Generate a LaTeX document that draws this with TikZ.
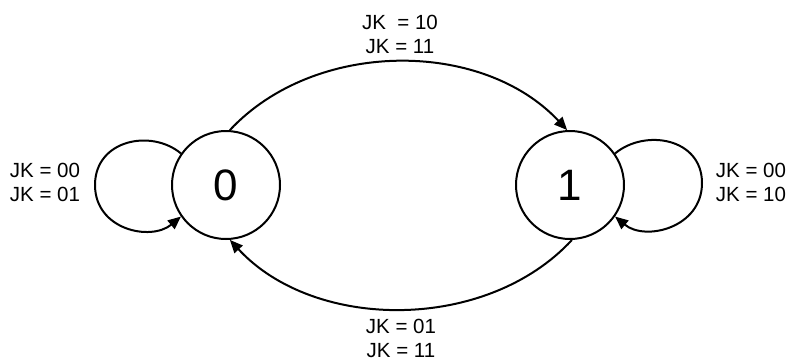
\documentclass[tikz,border=0pt]{standalone}
\usepackage{fontspec}
\setmainfont{Liberation Sans}
\usetikzlibrary{arrows.meta}
\begin{document}
\begin{tikzpicture}[
    x=1pt, y=1pt,
    every node/.style={font=\fontsize{20.5}{24}\selectfont},
    statenode/.style={draw, circle, line width=2pt, minimum size=108pt, inner sep=0pt,
        font=\fontsize{44}{48}\selectfont},
    lbl/.style={align=center},
    arr/.style={line width=2pt, -{Triangle[length=13pt,width=11pt]}}
]
\useasboundingbox (0,0) rectangle (790,-360);

\node[statenode] (s0) at (226,-185) {0};
\node[statenode] (s1) at (570,-185) {1};

\node[lbl] (t01) at (400,-34) {JK\ \ = 10\\JK = 11};
\node[lbl] (t10) at (401,-338) {JK = 01\\JK = 11};
\node[lbl] (t00) at (45,-182) {JK = 00\\JK = 01};
\node[lbl] (t11) at (751,-182) {JK = 00\\JK = 10};

% self loops
\coordinate (lp0) at (95,-185);
\coordinate (lp1) at (702,-183);
\draw[arr] (s0.145) .. controls +(-30,25) and +(0,45) .. (lp0)
    .. controls +(0,-45) and +(-30,-25) .. (s0.215);
\draw[arr] (s1.35) .. controls +(30,25) and +(0,45) .. (lp1)
    .. controls +(0,-45) and +(30,-25) .. (s1.-35);

\draw[arr] (s0.86) .. controls +(85,91) and +(-85,91) .. (s1.93);
\draw[arr] (s1.-88) .. controls +(-85,-92) and +(85,-92) .. (s0.-86);
\end{tikzpicture}
\end{document}
